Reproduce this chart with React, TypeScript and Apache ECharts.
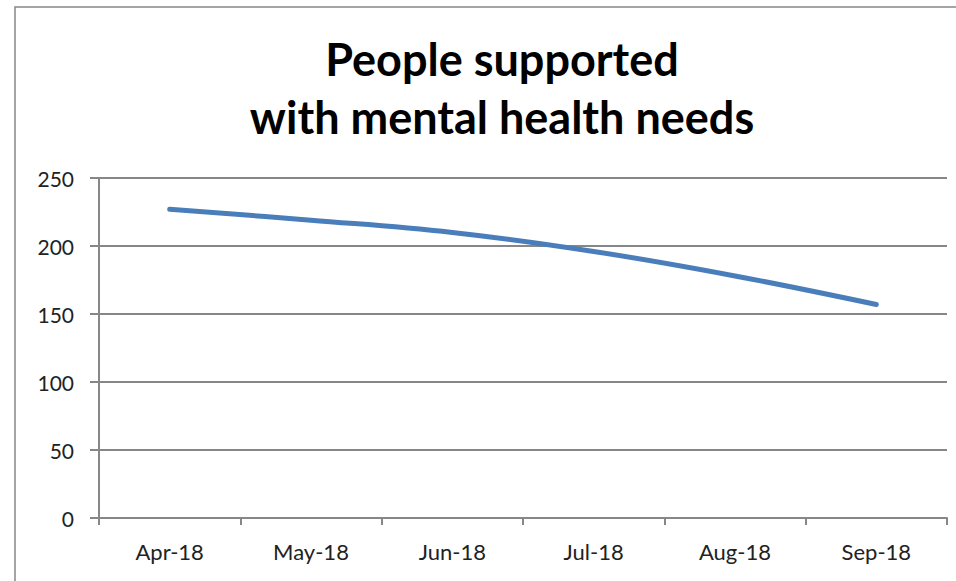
import React, { useEffect, useRef } from "react";
import * as echarts from "echarts";

const titleLines = ["People supported", "with mental health needs"];
const categories = ["Apr-18", "May-18", "Jun-18", "Jul-18", "Aug-18", "Sep-18"];
const peopleSupported = [227, 219, 210, 196, 178, 157];
const yTicks = { min: 0, max: 250, interval: 50 };

export default function App() {
  const ref = useRef<HTMLDivElement>(null);
  useEffect(() => {
    if (!ref.current) return;
    const chart = echarts.init(ref.current, null, { renderer: "svg" });
    const grey = "#878787";
    chart.setOption({
      animation: false,
      backgroundColor: "#fff",
      textStyle: { fontFamily: "Lato" },
      title: {
        text: titleLines.join("\n"),
        left: 497,
        textAlign: "center",
        top: 25,
        textStyle: {
          fontFamily: "Lato",
          fontWeight: "bold",
          fontSize: 45,
          lineHeight: 58,
          color: "#000",
        },
      },
      graphic: [
        {
          type: "rect",
          shape: { x: 15, y: 7, width: 960, height: 600 },
          style: { fill: "none", stroke: grey, lineWidth: 1.5 },
          silent: true,
        },
      ],
      grid: { left: 99, right: 9, top: 178, bottom: 63, containLabel: false },
      xAxis: {
        type: "category",
        data: categories,
        boundaryGap: true,
        axisLine: { lineStyle: { color: grey, width: 2 } },
        axisTick: { show: true, length: 7, inside: false, lineStyle: { color: grey, width: 2 } },
        axisLabel: { color: "#222", fontSize: 22, margin: 22, fontFamily: "Lato" },
        splitLine: { show: false },
      },
      yAxis: {
        type: "value",
        min: yTicks.min,
        max: yTicks.max,
        interval: yTicks.interval,
        axisLine: { show: true, lineStyle: { color: grey, width: 2 } },
        axisTick: { show: true, length: 9, lineStyle: { color: grey, width: 2 } },
        axisLabel: { color: "#222", fontSize: 21, margin: 25, fontFamily: "Lato" },
        splitLine: { show: true, lineStyle: { color: grey, width: 2 } },
      },
      series: [
        {
          type: "line",
          data: peopleSupported,
          smooth: 0.4,
          symbol: "none",
          lineStyle: { color: "#4A7EBB", width: 5, cap: "round" },
        },
      ],
    });
    return () => chart.dispose();
  }, []);
  return <div ref={ref} style={{ width: 956, height: 581, position: "absolute", left: 0, top: 0 }} />;
}
